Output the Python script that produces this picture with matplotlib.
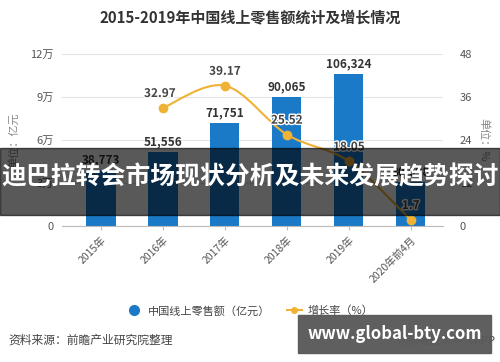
import matplotlib
matplotlib.use("Agg")
import matplotlib.pyplot as plt
import matplotlib.patheffects as pe
from matplotlib.path import Path
from matplotlib.patches import PathPatch, Rectangle
from matplotlib.lines import Line2D
import numpy as np

plt.rcParams['font.family'] = ['Noto Sans CJK SC', 'DejaVu Sans']

# data
categories = ['2015年', '2016年', '2017年', '2018年', '2019年', '2020年前4月']
sales = [38773, 51556, 71751, 90065, 106324, 30698]   # 亿元
growth_idx = [1, 2, 3, 4, 5]
growth = [32.97, 39.17, 25.52, 18.05, 1.7]             # %
left_ticks = [0, 30000, 60000, 90000, 120000]
left_labels = ['0', '3万', '6万', '9万', '12万']
right_ticks = [0, 12, 24, 36, 48]

bar_c = '#1a7ac8'
line_c = '#f0b232'
gray = '#555555'

fig = plt.figure(figsize=(5, 3.62), dpi=100)
ax = fig.add_axes([0.124, 0.3757, 0.762, 0.4751])
x = np.arange(len(categories))
ax.bar(x, sales, width=0.47, color=bar_c, zorder=2)
ax.set_ylim(0, 120000)
ax.set_xlim(-0.63, 5.52)
ax.set_yticks(left_ticks)
ax.set_yticklabels(left_labels)
ax.set_xticks(x)
ax.set_xticklabels(categories, rotation=45, ha='right', rotation_mode='anchor')
ax.grid(axis='y', color='#e4e4e4', lw=0.8, zorder=0)
for s in ['top', 'right', 'left']:
    ax.spines[s].set_visible(False)
ax.spines['bottom'].set_color('#bbbbbb')
ax.tick_params(axis='y', length=0, labelsize=8, colors=gray, pad=6)
ax.tick_params(axis='x', length=3, color='#bbbbbb', labelsize=7.5, colors=gray)
for xi, v in zip(x, sales):
    ax.text(xi, v + 2500, f'{v:,}', ha='center', va='bottom', fontsize=8.5,
            fontweight='bold', color='#333333', zorder=5)
ax.set_ylabel('单位：亿元', fontsize=8, color='#888888', labelpad=8)

ax2 = ax.twinx()
ax2.set_ylim(0, 48)
ax2.set_yticks(right_ticks)
ax2.tick_params(axis='y', length=0, labelsize=8, colors=gray, pad=12)
for s in ax2.spines.values():
    s.set_visible(False)
ax2.set_ylabel('单位：%', fontsize=8, color='#888888', rotation=-90, labelpad=12)

# smooth line through the growth points (catmull-rom as bezier)
pts = np.column_stack([growth_idx, growth]).astype(float)
verts = [pts[0]]
codes = [Path.MOVETO]
for i in range(len(pts) - 1):
    p0 = pts[i - 1] if i > 0 else pts[i]
    p1, p2 = pts[i], pts[i + 1]
    p3 = pts[i + 2] if i + 2 < len(pts) else pts[i + 1]
    c1 = p1 + (p2 - p0) / 6
    c2 = p2 - (p3 - p1) / 6
    verts += [c1, c2, p2]
    codes += [Path.CURVE4] * 3
ax2.add_patch(PathPatch(Path(verts, codes), fc='none', ec=line_c, lw=1.5, zorder=3))
ax2.plot(growth_idx, growth, 'o', color=line_c, ms=6, zorder=4)
offsets = [(-0.05, 2.2), (0, 2.2), (0, 2.2), (0, 2.2), (0, 2.2)]
for xi, v, (dx, dy) in zip(growth_idx, growth, offsets):
    ax2.text(xi + dx, v + dy, f'{v:g}', ha='center', va='bottom', fontsize=8.5,
             fontweight='bold', color='#444444', zorder=6,
             path_effects=[pe.withStroke(linewidth=2, foreground='white')])

fig.suptitle('2015-2019年中国线上零售额统计及增长情况', y=0.975, fontsize=10.8,
             fontweight='bold', color='#333333')

handles = [Line2D([], [], marker='o', ls='none', color=bar_c, ms=7),
           Line2D([], [], marker='o', color=line_c, ms=4, lw=1.5)]
fig.legend(handles, ['中国线上零售额（亿元）', '增长率（%）'], loc='center',
           bbox_to_anchor=(0.5, 0.141), ncol=2, frameon=False, fontsize=8,
           handlelength=1.4, handletextpad=0.5, columnspacing=1.5,
           labelcolor='#444444')

fig.text(0.016, 0.061, '资料来源：前瞻产业研究院整理', fontsize=8.5, color='#444444', va='center')
fig.text(0.99, 0.061, '@前瞻经济学人APP', fontsize=8, color='#444444', va='center', ha='right')

# overlays
fig.patches.append(Rectangle((0, 0.406), 1, 0.185, transform=fig.transFigure,
                             color='black', alpha=0.65, zorder=10))
fig.text(0.5, 0.51, '迪巴拉转会市场现状分析及未来发展趋势探讨', ha='center', va='center',
         fontsize=17.9, fontweight='bold', color='white', zorder=11)
fig.patches.append(Rectangle((0.596, 0.025), 0.386, 0.105, transform=fig.transFigure,
                             color='#5a5a5a', alpha=0.97, zorder=10))
fig.text(0.789, 0.078, 'www.global-bty.com', ha='center', va='center',
         fontsize=12, fontweight='bold', color='white', zorder=11)

fig.savefig('out.png', dpi=100)
